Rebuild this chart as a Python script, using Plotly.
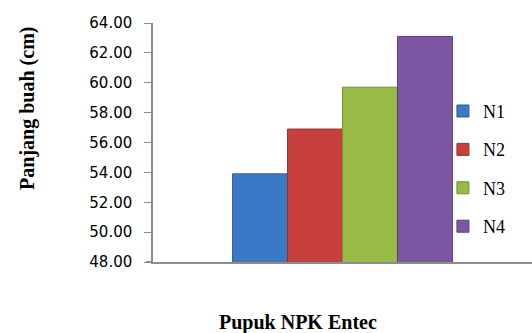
import plotly.graph_objects as go

# Fruit length per NPK Entec dose level
series = ["N1", "N2", "N3", "N4"]
values = [53.9, 56.9, 59.7, 63.1]
colors = ["#3b78c5", "#c8403e", "#97bb45", "#7b56a3"]
edges = ["#2c5c98", "#9b2f2d", "#739033", "#5c3f7d"]
category = ["Pupuk NPK Entec"]
y_ticks = [48, 50, 52, 54, 56, 58, 60, 62, 64]

fig = go.Figure()
for name, val, col, edge in zip(series, values, colors, edges):
    fig.add_trace(go.Bar(
        x=category, y=[val], name=name, legendgroup=name,
        marker=dict(color=col, line=dict(color=edge, width=1)),
    ))

fig.update_layout(
    width=532, height=333,
    margin=dict(l=153, r=0, t=23, b=71),
    paper_bgcolor="white", plot_bgcolor="white",
    barmode="group", bargap=0.42, bargroupgap=0,
    showlegend=True,
    legend=dict(
        x=0.765, xanchor="left", y=0.39, yanchor="middle",
        font=dict(family="Liberation Serif", size=18, color="black"),
        tracegroupgap=12, bgcolor="rgba(0,0,0,0)",
    ),
    xaxis=dict(
        showticklabels=False, ticks="", showgrid=False,
        showline=True, linecolor="#8c8c8c", linewidth=2,
        domain=[0, 1],
    ),
    yaxis=dict(
        range=[48, 64], tickvals=y_ticks, tickformat=".2f",
        showgrid=False, zeroline=False,
        showline=True, linecolor="#8c8c8c", linewidth=1.5,
        ticks="outside", ticklen=7, tickcolor="#8c8c8c",
        ticklabelstandoff=9,
        tickfont=dict(family="DejaVu Sans", size=15, color="black"),
    ),
    annotations=[
        dict(text="<b>Panjang buah (cm)</b>", textangle=-90,
             xref="paper", yref="paper", x=-0.333, y=0.644,
             xanchor="center", yanchor="middle", showarrow=False,
             font=dict(family="Liberation Serif", size=20, color="black")),
        dict(text="<b>Pupuk NPK Entec</b>",
             xref="paper", yref="paper", x=0.168, y=-0.255,
             xanchor="left", yanchor="middle", showarrow=False,
             font=dict(family="Liberation Serif", size=20, color="black")),
    ],
    shapes=[
        # axis baseline continues a few pixels left of the value axis
        dict(type="line", xref="paper", yref="paper", x0=-0.018, x1=0,
             y0=0, y1=0, line=dict(color="#8c8c8c", width=2)),
    ],
)

fig.write_html("out.html")
